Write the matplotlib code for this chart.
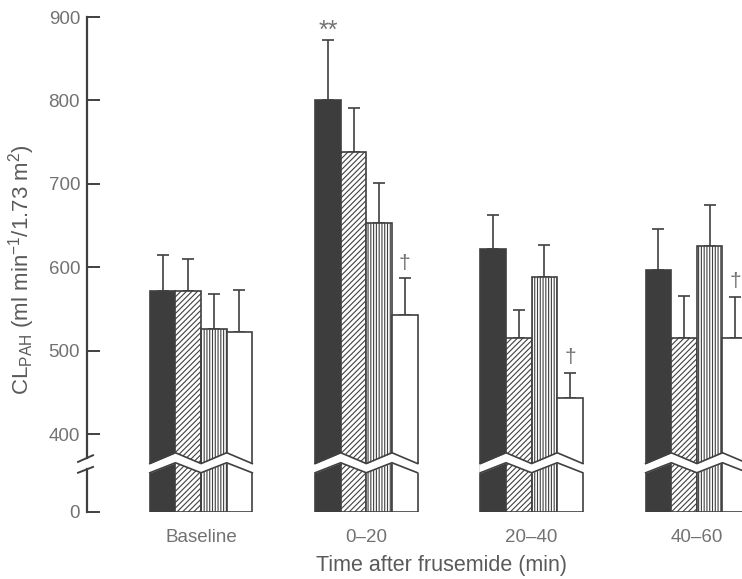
import numpy as np
import matplotlib.pyplot as plt
from matplotlib.transforms import blended_transform_factory

plt.rcParams['font.family'] = ['Liberation Sans', 'DejaVu Sans']
plt.rcParams['mathtext.default'] = 'regular'
plt.rcParams['hatch.linewidth'] = 0.8

# data (mean and upper SEM)
groups = ['Baseline', '0–20', '20–40', '40–60']
solid = [572, 800, 622, 597]
diag = [572, 738, 515, 515]
vert = [526, 653, 589, 626]
blank = [523, 543, 444, 515]
solid_err = [43, 72, 41, 49]
diag_err = [38, 53, 34, 51]
vert_err = [42, 48, 38, 49]
blank_err = [50, 44, 30, 50]
# (series, group): significance mark
marks = {(0, 1): '**', (3, 1): '†', (3, 2): '†', (3, 3): '†'}

floor = 307   # where "0" sits on the broken axis
yticks = [307, 400, 500, 600, 700, 800, 900]
yticklabels = ['0', '400', '500', '600', '700', '800', '900']
cut_hi = [365, 378, 365, 378, 365]
cut_lo = [354, 366, 354, 366, 354]

ec = '#404040'
tc = '#727272'

fig = plt.figure(figsize=(7.42, 5.79), dpi=100)
ax = fig.add_axes([87/742, 67/579, 655/742, 495/579])
ax.set_ylim(floor, 900)
ax.set_xlim(-0.69, 3.273)
w = 0.155
gx = np.arange(len(groups))

series = [(solid, solid_err, '#3d3d3d', None),
          (diag, diag_err, 'white', '//////'),
          (vert, vert_err, 'white', '||||||'),
          (blank, blank_err, 'white', None)]
tops = []
for i, (vals, errs, fc, h) in enumerate(series):
    x = gx + (i - 1.5) * w
    vals = np.array(vals)
    ax.bar(x, vals - floor, bottom=floor, width=w, color=fc, edgecolor=ec,
           hatch=h, lw=1.2, zorder=2)
    ax.errorbar(x, vals, yerr=[np.zeros(len(vals)), errs], fmt='none',
                ecolor=ec, elinewidth=1.2, capsize=4, capthick=1.2, zorder=1)
    tops.append((x, vals + np.array(errs)))

for (s, g), m in marks.items():
    x, t = tops[s]
    if m == '**':
        ax.annotate(m, (x[g], t[g]), xytext=(0, -2), textcoords='offset points',
                    ha='center', va='bottom', fontsize=18, color=tc)
    else:
        ax.annotate(m, (x[g], t[g]), xytext=(0, 4), textcoords='offset points',
                    ha='center', va='bottom', fontsize=15, color=tc)

# zigzag break through the bars
for g in gx:
    xs = g + np.array([-2, -1, 0, 1, 2]) * w
    xf = np.r_[xs[0] - 0.01, xs, xs[-1] + 0.01]
    ax.fill_between(xf, np.r_[cut_lo[0], cut_lo, cut_lo[-1]],
                    np.r_[cut_hi[0], cut_hi, cut_hi[-1]],
                    color='white', lw=0, zorder=3)
    ax.plot(xs, cut_hi, color=ec, lw=1.2, zorder=4)
    ax.plot(xs, cut_lo, color=ec, lw=1.2, zorder=4)

for sp in ax.spines.values():
    sp.set_visible(False)
tr = blended_transform_factory(ax.transAxes, ax.transData)
ax.plot([0, 0], [372, 900], color=ec, lw=1.6, transform=tr, clip_on=False)
ax.plot([0, 0], [floor, 359], color=ec, lw=1.6, transform=tr, clip_on=False)
ax.plot([-0.0137, 0.0092], [367, 375], color=ec, lw=1.4, transform=tr, clip_on=False)
ax.plot([-0.0137, 0.0092], [354, 361], color=ec, lw=1.4, transform=tr, clip_on=False)

ax.set_yticks(yticks, yticklabels)
ax.tick_params(axis='y', direction='in', length=9, width=1.4, color=ec,
               pad=5, labelsize=13.5, labelcolor=tc)
ax.set_xticks(gx, groups)
ax.tick_params(axis='x', length=0, pad=12, labelsize=13.5, labelcolor=tc)

fig.text(441/742, 1 - 566/579, 'Time after frusemide (min)', ha='center',
         va='center', fontsize=15.5, color='#5a5a5a')
fig.text(22/742, 1 - 270/579, r'CL$_{PAH}$ (ml min$^{-1}$/1.73 m$^{2}$)',
         rotation=90, ha='center', va='center', fontsize=16, color='#5a5a5a')

fig.savefig('out.png', dpi=100)
